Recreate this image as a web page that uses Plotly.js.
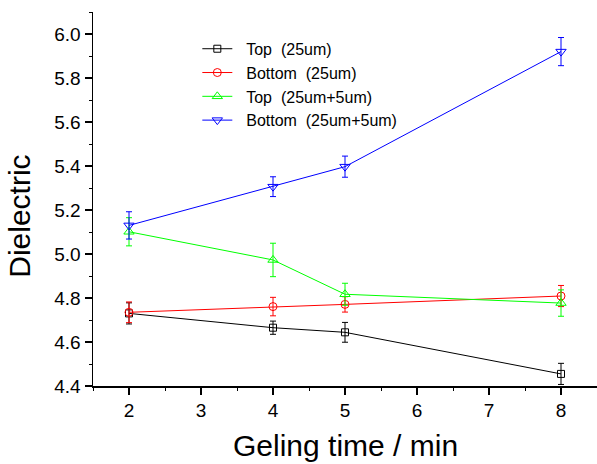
<!DOCTYPE html>
<html>
<head>
<meta charset="utf-8">
<script src="https://cdn.plot.ly/plotly-3.0.1.min.js"></script>
<style>html,body{margin:0;padding:0;background:#fff;}</style>
</head>
<body>
<div id="chart" style="width:597px;height:464px;"></div>
<script>
var xVals = [2, 4, 5, 8];
var seriesNames = ["Top\u00a0\u00a0(25um)", "Bottom\u00a0\u00a0(25um)", "Top\u00a0\u00a0(25um+5um)", "Bottom\u00a0\u00a0(25um+5um)"];
var topA = [4.730, 4.665, 4.644, 4.455];
var topAErr = [0.048, 0.030, 0.045, 0.048];
var botA = [4.735, 4.761, 4.771, 4.809];
var botAErr = [0.047, 0.042, 0.035, 0.048];
var topB = [5.101, 4.973, 4.817, 4.777];
var topBErr = [0.064, 0.076, 0.050, 0.060];
var botB = [5.130, 5.306, 5.397, 5.920];
var botBErr = [0.062, 0.045, 0.048, 0.064];
var xTitle = "Geling time / min";
var yTitle = "Dielectric";

var colors = ["#000000", "#ff0000", "#00ff00", "#0000ff"];
var symbols = ["square-open", "circle-open", "triangle-up-open", "triangle-down-open"];
var ys = [topA, botA, topB, botB];
var errs = [topAErr, botAErr, topBErr, botBErr];
var sizes = [7, 8, 9, 9];

var traces = ys.map(function (y, i) {
  return {
    x: xVals, y: y, name: "\u00a0\u00a0" + seriesNames[i], type: "scatter", mode: "lines+markers",
    line: {color: colors[i], width: 1},
    marker: {symbol: symbols[i], size: sizes[i], color: colors[i], line: {color: colors[i], width: 1}},
    error_y: {type: "data", array: errs[i], visible: true, color: colors[i], thickness: 1, width: 3}
  };
});

var fontFam = "Arial, 'Liberation Sans', sans-serif";
var layout = {
  width: 597, height: 464,
  margin: {l: 93, r: 0, t: 12, b: 78},
  paper_bgcolor: "#fff", plot_bgcolor: "#fff",
  font: {family: fontFam, color: "#000"},
  showlegend: true,
  legend: {x: 0.207, y: 0.947, xanchor: "left", yanchor: "top", bgcolor: "rgba(0,0,0,0)",
           font: {size: 16, family: fontFam, color: "#000"}, tracegroupgap: 0},
  xaxis: {
    range: [1.5, 8.5], dtick: 1, tick0: 0, showgrid: false, zeroline: false,
    showline: true, linecolor: "#000", linewidth: 1.5, mirror: false,
    ticks: "outside", ticklen: 7, tickwidth: 1.2, tickcolor: "#000",
    minor: {dtick: 0.5, ticks: "outside", ticklen: 3, tickwidth: 1, tickcolor: "#000", showgrid: false},
    tickfont: {size: 19, family: fontFam, color: "#000"}
  },
  yaxis: {
    range: [4.4, 6.1], dtick: 0.2, tick0: 0, tickformat: ".1f", showgrid: false, zeroline: false,
    showline: true, linecolor: "#000", linewidth: 1.5, mirror: false,
    ticks: "outside", ticklen: 7, tickwidth: 1.2, tickcolor: "#000",
    minor: {dtick: 0.1, ticks: "outside", ticklen: 3, tickwidth: 1, tickcolor: "#000", showgrid: false},
    tickfont: {size: 19, family: fontFam, color: "#000"}
  },
  annotations: [
    {text: xTitle, xref: "paper", yref: "paper", x: 0.5, y: -0.16, xanchor: "center", yanchor: "middle",
     showarrow: false, font: {size: 30, family: fontFam, color: "#000"}},
    {text: yTitle, xref: "paper", yref: "paper", x: -0.145, y: 0.455, xanchor: "center", yanchor: "middle",
     textangle: -90, showarrow: false, font: {size: 30, family: fontFam, color: "#000"}}
  ]
};

Plotly.newPlot("chart", traces, layout, {displayModeBar: false, staticPlot: true});
</script>
</body>
</html>
